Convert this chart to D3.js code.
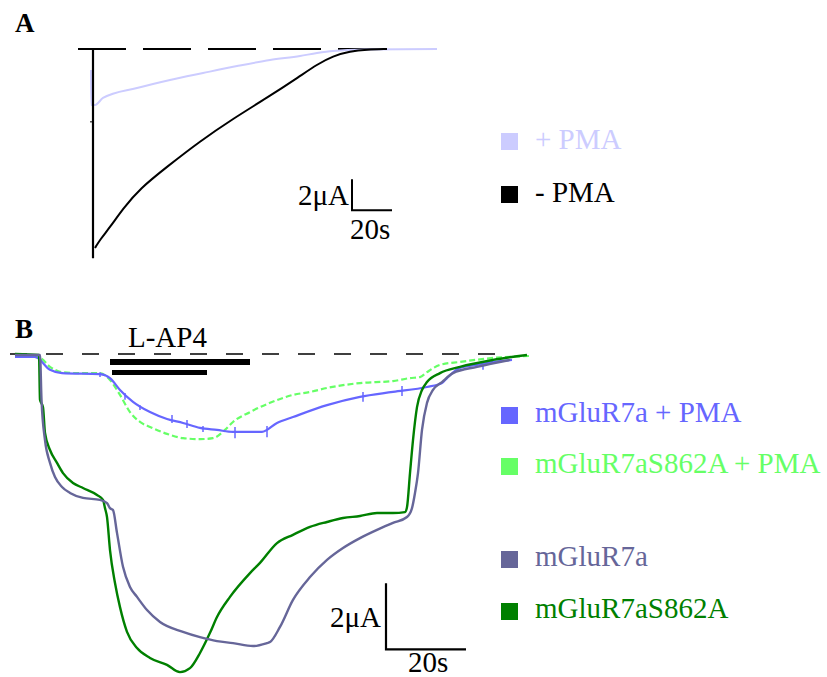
<!DOCTYPE html>
<html>
<head>
<meta charset="utf-8">
<script src="https://cdn.jsdelivr.net/npm/d3@7"></script>
<style>
  body { margin: 0; background: #fff; }
  svg { font-family: "Liberation Serif", "Times New Roman", serif; }
</style>
</head>
<body>
<svg id="chart" width="827" height="677"></svg>
<script>
// ---------------- panel A data: [time (s), current (uA)]
const aMinusPMA = [[1, -12.84], [3.5, -12.3], [8.5, -11.5], [15, -10.3], [23.5, -9.0], [37, -7.6],
  [53.5, -5.95], [70, -4.5], [87, -3.15], [103.5, -1.75], [112, -1.0], [120, -0.45], [128.5, -0.15], [137, -0.04], [147, 0]]
const aPlusPMA = [[-1, -1.35], [-0.9, -3.61], [1, -3.61], [5, -3.16], [22, -2.52], [38.5, -2.0], [55, -1.55],
  [72, -1.1], [88.5, -0.71], [103.5, -0.45], [112, -0.26], [120, -0.13], [137, -0.04], [172, 0]]
const aLabels = ['+ PMA', '- PMA']
const aColors = ['#ccccff', '#000000']

// ---------------- panel B data: [time (s), current (uA)]
const bR7aPMA = [[0, -0.09], [5, -0.09], [8.75, -0.48], [11.75, -0.58], [21.25, -0.61], [23.75, -0.73], [26.25, -1.09],
  [29.5, -1.45], [33.75, -1.76], [38, -1.97], [42, -2.09], [46.25, -2.24], [50.5, -2.3], [54.5, -2.36], [61.75, -2.36],
  [65.5, -2.09], [69.5, -1.91], [78, -1.55], [86.25, -1.3], [94.5, -1.15], [103, -1.0], [106.75, -0.88], [108, -0.73],
  [111.25, -0.42], [115.5, -0.33], [119.5, -0.24], [124.25, -0.18]]
// noise spikes on the blue trace: [time, top, bottom]
const bR7aPMASpikes = [[21.25, -0.55, -0.7], [27.5, -1.18, -1.39], [31.25, -1.55, -1.7], [39.25, -1.85, -2.09],
  [43, -2.0, -2.24], [47, -2.18, -2.36], [55, -2.21, -2.55], [63, -2.18, -2.52], [87, -1.15, -1.45],
  [96.75, -0.97, -1.27], [117, -0.24, -0.48]]
const bS862APMA = [[0, -0.03], [6.25, -0.12], [8.75, -0.39], [11.75, -0.55], [16.25, -0.58], [21.25, -0.58], [23.75, -0.79],
  [26.25, -1.24], [28.75, -1.76], [31.25, -2.06], [33.75, -2.21], [38, -2.42], [42, -2.55], [46.25, -2.58], [49.5, -2.55],
  [52.5, -2.3], [54.5, -2.06], [58.75, -1.76], [63.75, -1.48], [69.5, -1.24], [73.75, -1.15], [78, -1.03], [86.25, -0.88],
  [94.5, -0.82], [98.75, -0.73], [101.25, -0.7], [103, -0.55], [106.25, -0.33], [111.25, -0.24], [119.5, -0.12], [128.75, -0.06]]
const bR7a = [[0, -0.03], [6.25, -0.03], [6.63, -1.39], [7.5, -2.61], [8.75, -3.3], [10, -3.73], [11.75, -4.03], [13.75, -4.21],
  [17, -4.36], [21.25, -4.42], [23, -4.52], [23.75, -4.67], [24.5, -4.73], [25.5, -5.42], [27, -6.45], [28.75, -7.06],
  [30.5, -7.36], [33, -7.76], [36.25, -8.12], [42, -8.42], [46.25, -8.58], [50.5, -8.7], [54.5, -8.76], [59.5, -8.85],
  [63, -8.76], [63.75, -8.73], [66.25, -8.27], [69.5, -7.45], [73.75, -6.76], [78, -6.24], [82, -5.88], [86.25, -5.58],
  [90.5, -5.33], [94.5, -5.12], [98, -4.94], [99.25, -4.67], [100, -4.21], [100.75, -3.61], [101.75, -2.3], [103, -1.48],
  [104.5, -1.09], [106.75, -0.85], [109.5, -0.58], [115.5, -0.39], [123.75, -0.18]]
const bS862A = [[0, 0], [6, -0.03], [6.25, -1.39], [7, -1.61], [7.5, -2.39], [8.75, -2.91], [10.5, -3.3], [12, -3.61],
  [14.5, -3.91], [17, -4.06], [20.5, -4.27], [22, -4.42], [22.5, -4.67], [23, -4.94], [23.75, -5.94], [25, -6.94],
  [26.25, -7.67], [28, -8.42], [30.5, -8.91], [33.75, -9.21], [38, -9.42], [41.25, -9.64], [43.75, -9.52], [46.25, -9.06],
  [48.75, -8.45], [50.5, -7.97], [53.75, -7.36], [58.75, -6.64], [61.25, -6.33], [65.5, -5.73], [69.5, -5.48], [73.75, -5.24],
  [78, -5.09], [82, -4.97], [86.25, -4.91], [90.5, -4.82], [94.5, -4.82], [97.5, -4.79], [98, -4.64], [98.75, -3.61],
  [99.5, -2.61], [100.5, -1.61], [101.75, -1.09], [103, -0.85], [106.25, -0.58], [111.25, -0.39], [119.5, -0.18], [128, -0.03]]
const bLabels = ['mGluR7a + PMA', 'mGluR7aS862A + PMA', 'mGluR7a', 'mGluR7aS862A']
const bColors = ['#6666ff', '#66ff66', '#666699', '#008000']
// L-AP4 application windows (s)
const lap4 = [[23.75, 58.75], [24.25, 48]]

const svg = d3.select('#chart')

// ---------------- scales (2uA / 20s scale bars drawn from them)
const xA = d3.scaleLinear().domain([0, 20]).range([93, 133])
const yA = d3.scaleLinear().domain([0, -2]).range([49, 80])
const xB = d3.scaleLinear().domain([0, 20]).range([15, 95])
const yB = d3.scaleLinear().domain([0, -2]).range([354, 420])

const lineA = d3.line().x(d => xA(d[0])).y(d => yA(d[1])).curve(d3.curveMonotoneX)
const lineA2 = d3.line().x(d => xA(d[0])).y(d => yA(d[1])).curve(d3.curveBasis)
const lineB = d3.line().x(d => xB(d[0])).y(d => yB(d[1])).curve(d3.curveMonotoneX)

// ================= panel A
svg.append('text').attr('x', 15).attr('y', 32).attr('font-size', 27).attr('font-weight', 'bold').text('A')

svg.append('line')
  .attr('x1', xA(-7.5)).attr('x2', xA(147))
  .attr('y1', yA(0)).attr('y2', yA(0))
  .attr('stroke', '#000').attr('stroke-width', 2).attr('stroke-dasharray', '48,17')

svg.append('path').datum(aPlusPMA)
  .attr('d', lineA).attr('fill', 'none').attr('stroke', aColors[0]).attr('stroke-width', 2)

// vertical start line + small tick
svg.append('line')
  .attr('x1', xA(0)).attr('x2', xA(0)).attr('y1', yA(0)).attr('y2', yA(-13.5))
  .attr('stroke', '#000').attr('stroke-width', 2.2)
svg.append('line')
  .attr('x1', xA(-1.5)).attr('x2', xA(0)).attr('y1', yA(-4.7)).attr('y2', yA(-4.7))
  .attr('stroke', '#000').attr('stroke-width', 1)

svg.append('path').datum(aMinusPMA)
  .attr('d', lineA2).attr('fill', 'none').attr('stroke', aColors[1]).attr('stroke-width', 2)

// scale bar A
const sbA = svg.append('g')
sbA.append('path')
  .attr('d', `M${xA(129.5)},${yA(-8.4)}V${yA(-10.4)}H${xA(149.5)}`)
  .attr('fill', 'none').attr('stroke', '#000').attr('stroke-width', 2)
sbA.append('text').attr('x', xA(129.5) - 3).attr('y', yA(-10.4) - 5).attr('text-anchor', 'end')
  .attr('font-size', 29).text('2μA')
sbA.append('text').attr('x', xA(128.5)).attr('y', yA(-10.4) + 29)
  .attr('font-size', 29).text('20s')

// legend A
aLabels.forEach((lab, i) => {
  const y0 = 133 + i * 53
  svg.append('rect').attr('x', 501).attr('y', y0).attr('width', 17).attr('height', 17).attr('fill', aColors[i])
  svg.append('text').attr('x', 535).attr('y', y0 + 16).attr('font-size', 29).attr('fill', aColors[i]).text(lab)
})

// ================= panel B
svg.append('text').attr('x', 15).attr('y', 338).attr('font-size', 27).attr('font-weight', 'bold').text('B')

svg.append('text').attr('x', xB(28.25)).attr('y', 347).attr('font-size', 29).text('L-AP4')
svg.selectAll('.lap4')
  .data(lap4)
  .enter()
  .append('rect')
  .attr('class', 'lap4')
  .attr('x', d => xB(d[0]))
  .attr('width', d => xB(d[1]) - xB(d[0]))
  .attr('y', (d, i) => i === 0 ? 359 : 370)
  .attr('height', (d, i) => i === 0 ? 6 : 5)
  .attr('fill', '#000')

svg.append('line')
  .attr('x1', xB(-1.25)).attr('x2', xB(123.75))
  .attr('y1', yB(0)).attr('y2', yB(0))
  .attr('stroke', '#000').attr('stroke-width', 1.6).attr('stroke-dasharray', '17,19')

svg.append('path').datum(bS862APMA)
  .attr('d', lineB).attr('fill', 'none').attr('stroke', bColors[1]).attr('stroke-width', 2.2)
  .attr('stroke-dasharray', '6,3')
svg.append('path').datum(bR7aPMA)
  .attr('d', lineB).attr('fill', 'none').attr('stroke', bColors[0]).attr('stroke-width', 2.2)
svg.selectAll('.spike')
  .data(bR7aPMASpikes)
  .enter()
  .append('line')
  .attr('class', 'spike')
  .attr('x1', d => xB(d[0])).attr('x2', d => xB(d[0]))
  .attr('y1', d => yB(d[1])).attr('y2', d => yB(d[2]))
  .attr('stroke', bColors[0]).attr('stroke-width', 1.5)
svg.append('path').datum(bS862A)
  .attr('d', lineB).attr('fill', 'none').attr('stroke', bColors[3]).attr('stroke-width', 2.4)
svg.append('path').datum(bR7a)
  .attr('d', lineB).attr('fill', 'none').attr('stroke', bColors[2]).attr('stroke-width', 2.4)

// scale bar B
const sbB = svg.append('g')
sbB.append('path')
  .attr('d', `M${xB(92.75)},${yB(-6.95)}V${yB(-8.95)}H${xB(112.75)}`)
  .attr('fill', 'none').attr('stroke', '#000').attr('stroke-width', 2.2)
sbB.append('text').attr('x', xB(92.75) - 5).attr('y', yB(-8.95) - 22).attr('text-anchor', 'end')
  .attr('font-size', 29).text('2μA')
sbB.append('text').attr('x', xB(98.25)).attr('y', yB(-8.95) + 23)
  .attr('font-size', 29).text('20s')

// legend B
const bRows = [407, 458, 551, 603]
bLabels.forEach((lab, i) => {
  svg.append('rect').attr('x', 501).attr('y', bRows[i]).attr('width', 17).attr('height', 17).attr('fill', bColors[i])
  svg.append('text').attr('x', 535).attr('y', bRows[i] + 15).attr('font-size', 29).attr('fill', bColors[i]).text(lab)
})
</script>
</body>
</html>
